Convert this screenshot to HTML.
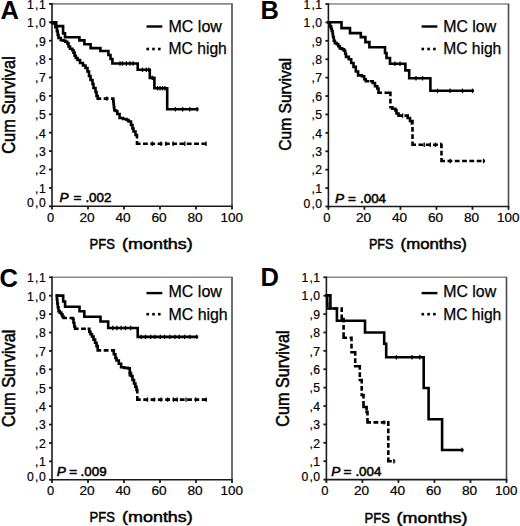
<!DOCTYPE html>
<html><head><meta charset="utf-8"><style>
html,body{margin:0;padding:0;background:#fff;}
body{width:520px;height:526px;overflow:hidden;}
svg{display:block;}
text{fill:#000;}
</style></head><body>
<svg width="520" height="526" viewBox="0 0 520 526">
<rect width="520" height="526" fill="#fff"/>
<line x1="52.0" y1="3.9" x2="232.8" y2="3.9" stroke="#8a8a8a" stroke-width="1.6"/>
<line x1="232.0" y1="3.9" x2="232.0" y2="206.3" stroke="#4a4a4a" stroke-width="1.6"/>
<line x1="52.0" y1="3.0999999999999996" x2="52.0" y2="207.10000000000002" stroke="#1a1a1a" stroke-width="1.6"/>
<line x1="51.2" y1="206.3" x2="232.8" y2="206.3" stroke="#1a1a1a" stroke-width="1.6"/>
<line x1="49.0" y1="206.30" x2="52.0" y2="206.30" stroke="#1a1a1a" stroke-width="1.8"/>
<line x1="49.0" y1="187.90" x2="52.0" y2="187.90" stroke="#1a1a1a" stroke-width="1.8"/>
<line x1="49.0" y1="169.50" x2="52.0" y2="169.50" stroke="#1a1a1a" stroke-width="1.8"/>
<line x1="49.0" y1="151.10" x2="52.0" y2="151.10" stroke="#1a1a1a" stroke-width="1.8"/>
<line x1="49.0" y1="132.70" x2="52.0" y2="132.70" stroke="#1a1a1a" stroke-width="1.8"/>
<line x1="49.0" y1="114.30" x2="52.0" y2="114.30" stroke="#1a1a1a" stroke-width="1.8"/>
<line x1="49.0" y1="95.90" x2="52.0" y2="95.90" stroke="#1a1a1a" stroke-width="1.8"/>
<line x1="49.0" y1="77.50" x2="52.0" y2="77.50" stroke="#1a1a1a" stroke-width="1.8"/>
<line x1="49.0" y1="59.10" x2="52.0" y2="59.10" stroke="#1a1a1a" stroke-width="1.8"/>
<line x1="49.0" y1="40.70" x2="52.0" y2="40.70" stroke="#1a1a1a" stroke-width="1.8"/>
<line x1="49.0" y1="22.30" x2="52.0" y2="22.30" stroke="#1a1a1a" stroke-width="1.8"/>
<line x1="49.0" y1="3.90" x2="52.0" y2="3.90" stroke="#1a1a1a" stroke-width="1.8"/>
<line x1="52.00" y1="206.3" x2="52.00" y2="209.60000000000002" stroke="#1a1a1a" stroke-width="1.8"/>
<line x1="88.00" y1="206.3" x2="88.00" y2="209.60000000000002" stroke="#1a1a1a" stroke-width="1.8"/>
<line x1="124.00" y1="206.3" x2="124.00" y2="209.60000000000002" stroke="#1a1a1a" stroke-width="1.8"/>
<line x1="160.00" y1="206.3" x2="160.00" y2="209.60000000000002" stroke="#1a1a1a" stroke-width="1.8"/>
<line x1="196.00" y1="206.3" x2="196.00" y2="209.60000000000002" stroke="#1a1a1a" stroke-width="1.8"/>
<line x1="232.00" y1="206.3" x2="232.00" y2="209.60000000000002" stroke="#1a1a1a" stroke-width="1.8"/>
<text x="45.70" y="207.30" text-anchor="end" font-size="12.2" font-family='"Liberation Sans", sans-serif' stroke="#000" stroke-width="0.2">0</text>
<text x="35.00" y="207.30" font-size="12.2" font-family='"Liberation Sans", sans-serif' stroke="#000" stroke-width="0.2">,</text>
<text x="33.80" y="207.30" text-anchor="end" font-size="12.2" font-family='"Liberation Sans", sans-serif' stroke="#000" stroke-width="0.2">0</text>
<text x="45.70" y="192.70" text-anchor="end" font-size="12.2" font-family='"Liberation Sans", sans-serif' stroke="#000" stroke-width="0.2">1</text>
<text x="35.00" y="192.70" font-size="12.2" font-family='"Liberation Sans", sans-serif' stroke="#000" stroke-width="0.2">,</text>
<text x="45.70" y="174.30" text-anchor="end" font-size="12.2" font-family='"Liberation Sans", sans-serif' stroke="#000" stroke-width="0.2">2</text>
<text x="35.00" y="174.30" font-size="12.2" font-family='"Liberation Sans", sans-serif' stroke="#000" stroke-width="0.2">,</text>
<text x="45.70" y="155.90" text-anchor="end" font-size="12.2" font-family='"Liberation Sans", sans-serif' stroke="#000" stroke-width="0.2">3</text>
<text x="35.00" y="155.90" font-size="12.2" font-family='"Liberation Sans", sans-serif' stroke="#000" stroke-width="0.2">,</text>
<text x="45.70" y="137.50" text-anchor="end" font-size="12.2" font-family='"Liberation Sans", sans-serif' stroke="#000" stroke-width="0.2">4</text>
<text x="35.00" y="137.50" font-size="12.2" font-family='"Liberation Sans", sans-serif' stroke="#000" stroke-width="0.2">,</text>
<text x="45.70" y="119.10" text-anchor="end" font-size="12.2" font-family='"Liberation Sans", sans-serif' stroke="#000" stroke-width="0.2">5</text>
<text x="35.00" y="119.10" font-size="12.2" font-family='"Liberation Sans", sans-serif' stroke="#000" stroke-width="0.2">,</text>
<text x="45.70" y="100.70" text-anchor="end" font-size="12.2" font-family='"Liberation Sans", sans-serif' stroke="#000" stroke-width="0.2">6</text>
<text x="35.00" y="100.70" font-size="12.2" font-family='"Liberation Sans", sans-serif' stroke="#000" stroke-width="0.2">,</text>
<text x="45.70" y="82.30" text-anchor="end" font-size="12.2" font-family='"Liberation Sans", sans-serif' stroke="#000" stroke-width="0.2">7</text>
<text x="35.00" y="82.30" font-size="12.2" font-family='"Liberation Sans", sans-serif' stroke="#000" stroke-width="0.2">,</text>
<text x="45.70" y="63.90" text-anchor="end" font-size="12.2" font-family='"Liberation Sans", sans-serif' stroke="#000" stroke-width="0.2">8</text>
<text x="35.00" y="63.90" font-size="12.2" font-family='"Liberation Sans", sans-serif' stroke="#000" stroke-width="0.2">,</text>
<text x="45.70" y="45.50" text-anchor="end" font-size="12.2" font-family='"Liberation Sans", sans-serif' stroke="#000" stroke-width="0.2">9</text>
<text x="35.00" y="45.50" font-size="12.2" font-family='"Liberation Sans", sans-serif' stroke="#000" stroke-width="0.2">,</text>
<text x="45.70" y="27.10" text-anchor="end" font-size="12.2" font-family='"Liberation Sans", sans-serif' stroke="#000" stroke-width="0.2">0</text>
<text x="35.00" y="27.10" font-size="12.2" font-family='"Liberation Sans", sans-serif' stroke="#000" stroke-width="0.2">,</text>
<text x="33.80" y="27.10" text-anchor="end" font-size="12.2" font-family='"Liberation Sans", sans-serif' stroke="#000" stroke-width="0.2">1</text>
<text x="45.70" y="8.70" text-anchor="end" font-size="12.2" font-family='"Liberation Sans", sans-serif' stroke="#000" stroke-width="0.2">1</text>
<text x="35.00" y="8.70" font-size="12.2" font-family='"Liberation Sans", sans-serif' stroke="#000" stroke-width="0.2">,</text>
<text x="33.80" y="8.70" text-anchor="end" font-size="12.2" font-family='"Liberation Sans", sans-serif' stroke="#000" stroke-width="0.2">1</text>
<text x="50.50" y="221.90" text-anchor="middle" font-size="12.2" font-family='"Liberation Sans", sans-serif' textLength="7.2" lengthAdjust="spacingAndGlyphs" stroke="#000" stroke-width="0.2">0</text>
<text x="87.10" y="221.90" text-anchor="middle" font-size="12.2" font-family='"Liberation Sans", sans-serif' textLength="15.2" lengthAdjust="spacingAndGlyphs" stroke="#000" stroke-width="0.2">20</text>
<text x="123.10" y="221.90" text-anchor="middle" font-size="12.2" font-family='"Liberation Sans", sans-serif' textLength="15.2" lengthAdjust="spacingAndGlyphs" stroke="#000" stroke-width="0.2">40</text>
<text x="159.10" y="221.90" text-anchor="middle" font-size="12.2" font-family='"Liberation Sans", sans-serif' textLength="15.2" lengthAdjust="spacingAndGlyphs" stroke="#000" stroke-width="0.2">60</text>
<text x="195.10" y="221.90" text-anchor="middle" font-size="12.2" font-family='"Liberation Sans", sans-serif' textLength="15.2" lengthAdjust="spacingAndGlyphs" stroke="#000" stroke-width="0.2">80</text>
<text x="231.80" y="221.90" text-anchor="middle" font-size="12.2" font-family='"Liberation Sans", sans-serif' textLength="22.4" lengthAdjust="spacingAndGlyphs" stroke="#000" stroke-width="0.2">100</text>
<line x1="328.4" y1="4.0" x2="509.3" y2="4.0" stroke="#8a8a8a" stroke-width="1.6"/>
<line x1="508.5" y1="4.0" x2="508.5" y2="206.5" stroke="#4a4a4a" stroke-width="1.6"/>
<line x1="328.4" y1="3.2" x2="328.4" y2="207.3" stroke="#1a1a1a" stroke-width="1.6"/>
<line x1="327.59999999999997" y1="206.5" x2="509.3" y2="206.5" stroke="#1a1a1a" stroke-width="1.6"/>
<line x1="325.4" y1="206.50" x2="328.4" y2="206.50" stroke="#1a1a1a" stroke-width="1.8"/>
<line x1="325.4" y1="188.09" x2="328.4" y2="188.09" stroke="#1a1a1a" stroke-width="1.8"/>
<line x1="325.4" y1="169.68" x2="328.4" y2="169.68" stroke="#1a1a1a" stroke-width="1.8"/>
<line x1="325.4" y1="151.27" x2="328.4" y2="151.27" stroke="#1a1a1a" stroke-width="1.8"/>
<line x1="325.4" y1="132.86" x2="328.4" y2="132.86" stroke="#1a1a1a" stroke-width="1.8"/>
<line x1="325.4" y1="114.45" x2="328.4" y2="114.45" stroke="#1a1a1a" stroke-width="1.8"/>
<line x1="325.4" y1="96.05" x2="328.4" y2="96.05" stroke="#1a1a1a" stroke-width="1.8"/>
<line x1="325.4" y1="77.64" x2="328.4" y2="77.64" stroke="#1a1a1a" stroke-width="1.8"/>
<line x1="325.4" y1="59.23" x2="328.4" y2="59.23" stroke="#1a1a1a" stroke-width="1.8"/>
<line x1="325.4" y1="40.82" x2="328.4" y2="40.82" stroke="#1a1a1a" stroke-width="1.8"/>
<line x1="325.4" y1="22.41" x2="328.4" y2="22.41" stroke="#1a1a1a" stroke-width="1.8"/>
<line x1="325.4" y1="4.00" x2="328.4" y2="4.00" stroke="#1a1a1a" stroke-width="1.8"/>
<line x1="328.40" y1="206.5" x2="328.40" y2="209.8" stroke="#1a1a1a" stroke-width="1.8"/>
<line x1="364.42" y1="206.5" x2="364.42" y2="209.8" stroke="#1a1a1a" stroke-width="1.8"/>
<line x1="400.44" y1="206.5" x2="400.44" y2="209.8" stroke="#1a1a1a" stroke-width="1.8"/>
<line x1="436.46" y1="206.5" x2="436.46" y2="209.8" stroke="#1a1a1a" stroke-width="1.8"/>
<line x1="472.48" y1="206.5" x2="472.48" y2="209.8" stroke="#1a1a1a" stroke-width="1.8"/>
<line x1="508.50" y1="206.5" x2="508.50" y2="209.8" stroke="#1a1a1a" stroke-width="1.8"/>
<text x="322.10" y="207.50" text-anchor="end" font-size="12.2" font-family='"Liberation Sans", sans-serif' stroke="#000" stroke-width="0.2">0</text>
<text x="311.40" y="207.50" font-size="12.2" font-family='"Liberation Sans", sans-serif' stroke="#000" stroke-width="0.2">,</text>
<text x="310.20" y="207.50" text-anchor="end" font-size="12.2" font-family='"Liberation Sans", sans-serif' stroke="#000" stroke-width="0.2">0</text>
<text x="322.10" y="192.89" text-anchor="end" font-size="12.2" font-family='"Liberation Sans", sans-serif' stroke="#000" stroke-width="0.2">1</text>
<text x="311.40" y="192.89" font-size="12.2" font-family='"Liberation Sans", sans-serif' stroke="#000" stroke-width="0.2">,</text>
<text x="322.10" y="174.48" text-anchor="end" font-size="12.2" font-family='"Liberation Sans", sans-serif' stroke="#000" stroke-width="0.2">2</text>
<text x="311.40" y="174.48" font-size="12.2" font-family='"Liberation Sans", sans-serif' stroke="#000" stroke-width="0.2">,</text>
<text x="322.10" y="156.07" text-anchor="end" font-size="12.2" font-family='"Liberation Sans", sans-serif' stroke="#000" stroke-width="0.2">3</text>
<text x="311.40" y="156.07" font-size="12.2" font-family='"Liberation Sans", sans-serif' stroke="#000" stroke-width="0.2">,</text>
<text x="322.10" y="137.66" text-anchor="end" font-size="12.2" font-family='"Liberation Sans", sans-serif' stroke="#000" stroke-width="0.2">4</text>
<text x="311.40" y="137.66" font-size="12.2" font-family='"Liberation Sans", sans-serif' stroke="#000" stroke-width="0.2">,</text>
<text x="322.10" y="119.25" text-anchor="end" font-size="12.2" font-family='"Liberation Sans", sans-serif' stroke="#000" stroke-width="0.2">5</text>
<text x="311.40" y="119.25" font-size="12.2" font-family='"Liberation Sans", sans-serif' stroke="#000" stroke-width="0.2">,</text>
<text x="322.10" y="100.85" text-anchor="end" font-size="12.2" font-family='"Liberation Sans", sans-serif' stroke="#000" stroke-width="0.2">6</text>
<text x="311.40" y="100.85" font-size="12.2" font-family='"Liberation Sans", sans-serif' stroke="#000" stroke-width="0.2">,</text>
<text x="322.10" y="82.44" text-anchor="end" font-size="12.2" font-family='"Liberation Sans", sans-serif' stroke="#000" stroke-width="0.2">7</text>
<text x="311.40" y="82.44" font-size="12.2" font-family='"Liberation Sans", sans-serif' stroke="#000" stroke-width="0.2">,</text>
<text x="322.10" y="64.03" text-anchor="end" font-size="12.2" font-family='"Liberation Sans", sans-serif' stroke="#000" stroke-width="0.2">8</text>
<text x="311.40" y="64.03" font-size="12.2" font-family='"Liberation Sans", sans-serif' stroke="#000" stroke-width="0.2">,</text>
<text x="322.10" y="45.62" text-anchor="end" font-size="12.2" font-family='"Liberation Sans", sans-serif' stroke="#000" stroke-width="0.2">9</text>
<text x="311.40" y="45.62" font-size="12.2" font-family='"Liberation Sans", sans-serif' stroke="#000" stroke-width="0.2">,</text>
<text x="322.10" y="27.21" text-anchor="end" font-size="12.2" font-family='"Liberation Sans", sans-serif' stroke="#000" stroke-width="0.2">0</text>
<text x="311.40" y="27.21" font-size="12.2" font-family='"Liberation Sans", sans-serif' stroke="#000" stroke-width="0.2">,</text>
<text x="310.20" y="27.21" text-anchor="end" font-size="12.2" font-family='"Liberation Sans", sans-serif' stroke="#000" stroke-width="0.2">1</text>
<text x="322.10" y="8.80" text-anchor="end" font-size="12.2" font-family='"Liberation Sans", sans-serif' stroke="#000" stroke-width="0.2">1</text>
<text x="311.40" y="8.80" font-size="12.2" font-family='"Liberation Sans", sans-serif' stroke="#000" stroke-width="0.2">,</text>
<text x="310.20" y="8.80" text-anchor="end" font-size="12.2" font-family='"Liberation Sans", sans-serif' stroke="#000" stroke-width="0.2">1</text>
<text x="326.90" y="222.10" text-anchor="middle" font-size="12.2" font-family='"Liberation Sans", sans-serif' textLength="7.2" lengthAdjust="spacingAndGlyphs" stroke="#000" stroke-width="0.2">0</text>
<text x="363.52" y="222.10" text-anchor="middle" font-size="12.2" font-family='"Liberation Sans", sans-serif' textLength="15.2" lengthAdjust="spacingAndGlyphs" stroke="#000" stroke-width="0.2">20</text>
<text x="399.54" y="222.10" text-anchor="middle" font-size="12.2" font-family='"Liberation Sans", sans-serif' textLength="15.2" lengthAdjust="spacingAndGlyphs" stroke="#000" stroke-width="0.2">40</text>
<text x="435.56" y="222.10" text-anchor="middle" font-size="12.2" font-family='"Liberation Sans", sans-serif' textLength="15.2" lengthAdjust="spacingAndGlyphs" stroke="#000" stroke-width="0.2">60</text>
<text x="471.58" y="222.10" text-anchor="middle" font-size="12.2" font-family='"Liberation Sans", sans-serif' textLength="15.2" lengthAdjust="spacingAndGlyphs" stroke="#000" stroke-width="0.2">80</text>
<text x="508.30" y="222.10" text-anchor="middle" font-size="12.2" font-family='"Liberation Sans", sans-serif' textLength="22.4" lengthAdjust="spacingAndGlyphs" stroke="#000" stroke-width="0.2">100</text>
<line x1="52.0" y1="277.3" x2="232.8" y2="277.3" stroke="#8a8a8a" stroke-width="1.6"/>
<line x1="232.0" y1="277.3" x2="232.0" y2="479.8" stroke="#4a4a4a" stroke-width="1.6"/>
<line x1="52.0" y1="276.5" x2="52.0" y2="480.6" stroke="#1a1a1a" stroke-width="1.6"/>
<line x1="51.2" y1="479.8" x2="232.8" y2="479.8" stroke="#1a1a1a" stroke-width="1.6"/>
<line x1="49.0" y1="479.80" x2="52.0" y2="479.80" stroke="#1a1a1a" stroke-width="1.8"/>
<line x1="49.0" y1="461.39" x2="52.0" y2="461.39" stroke="#1a1a1a" stroke-width="1.8"/>
<line x1="49.0" y1="442.98" x2="52.0" y2="442.98" stroke="#1a1a1a" stroke-width="1.8"/>
<line x1="49.0" y1="424.57" x2="52.0" y2="424.57" stroke="#1a1a1a" stroke-width="1.8"/>
<line x1="49.0" y1="406.16" x2="52.0" y2="406.16" stroke="#1a1a1a" stroke-width="1.8"/>
<line x1="49.0" y1="387.75" x2="52.0" y2="387.75" stroke="#1a1a1a" stroke-width="1.8"/>
<line x1="49.0" y1="369.35" x2="52.0" y2="369.35" stroke="#1a1a1a" stroke-width="1.8"/>
<line x1="49.0" y1="350.94" x2="52.0" y2="350.94" stroke="#1a1a1a" stroke-width="1.8"/>
<line x1="49.0" y1="332.53" x2="52.0" y2="332.53" stroke="#1a1a1a" stroke-width="1.8"/>
<line x1="49.0" y1="314.12" x2="52.0" y2="314.12" stroke="#1a1a1a" stroke-width="1.8"/>
<line x1="49.0" y1="295.71" x2="52.0" y2="295.71" stroke="#1a1a1a" stroke-width="1.8"/>
<line x1="49.0" y1="277.30" x2="52.0" y2="277.30" stroke="#1a1a1a" stroke-width="1.8"/>
<line x1="52.00" y1="479.8" x2="52.00" y2="483.1" stroke="#1a1a1a" stroke-width="1.8"/>
<line x1="88.00" y1="479.8" x2="88.00" y2="483.1" stroke="#1a1a1a" stroke-width="1.8"/>
<line x1="124.00" y1="479.8" x2="124.00" y2="483.1" stroke="#1a1a1a" stroke-width="1.8"/>
<line x1="160.00" y1="479.8" x2="160.00" y2="483.1" stroke="#1a1a1a" stroke-width="1.8"/>
<line x1="196.00" y1="479.8" x2="196.00" y2="483.1" stroke="#1a1a1a" stroke-width="1.8"/>
<line x1="232.00" y1="479.8" x2="232.00" y2="483.1" stroke="#1a1a1a" stroke-width="1.8"/>
<text x="45.70" y="480.80" text-anchor="end" font-size="12.2" font-family='"Liberation Sans", sans-serif' stroke="#000" stroke-width="0.2">0</text>
<text x="35.00" y="480.80" font-size="12.2" font-family='"Liberation Sans", sans-serif' stroke="#000" stroke-width="0.2">,</text>
<text x="33.80" y="480.80" text-anchor="end" font-size="12.2" font-family='"Liberation Sans", sans-serif' stroke="#000" stroke-width="0.2">0</text>
<text x="45.70" y="466.19" text-anchor="end" font-size="12.2" font-family='"Liberation Sans", sans-serif' stroke="#000" stroke-width="0.2">1</text>
<text x="35.00" y="466.19" font-size="12.2" font-family='"Liberation Sans", sans-serif' stroke="#000" stroke-width="0.2">,</text>
<text x="45.70" y="447.78" text-anchor="end" font-size="12.2" font-family='"Liberation Sans", sans-serif' stroke="#000" stroke-width="0.2">2</text>
<text x="35.00" y="447.78" font-size="12.2" font-family='"Liberation Sans", sans-serif' stroke="#000" stroke-width="0.2">,</text>
<text x="45.70" y="429.37" text-anchor="end" font-size="12.2" font-family='"Liberation Sans", sans-serif' stroke="#000" stroke-width="0.2">3</text>
<text x="35.00" y="429.37" font-size="12.2" font-family='"Liberation Sans", sans-serif' stroke="#000" stroke-width="0.2">,</text>
<text x="45.70" y="410.96" text-anchor="end" font-size="12.2" font-family='"Liberation Sans", sans-serif' stroke="#000" stroke-width="0.2">4</text>
<text x="35.00" y="410.96" font-size="12.2" font-family='"Liberation Sans", sans-serif' stroke="#000" stroke-width="0.2">,</text>
<text x="45.70" y="392.55" text-anchor="end" font-size="12.2" font-family='"Liberation Sans", sans-serif' stroke="#000" stroke-width="0.2">5</text>
<text x="35.00" y="392.55" font-size="12.2" font-family='"Liberation Sans", sans-serif' stroke="#000" stroke-width="0.2">,</text>
<text x="45.70" y="374.15" text-anchor="end" font-size="12.2" font-family='"Liberation Sans", sans-serif' stroke="#000" stroke-width="0.2">6</text>
<text x="35.00" y="374.15" font-size="12.2" font-family='"Liberation Sans", sans-serif' stroke="#000" stroke-width="0.2">,</text>
<text x="45.70" y="355.74" text-anchor="end" font-size="12.2" font-family='"Liberation Sans", sans-serif' stroke="#000" stroke-width="0.2">7</text>
<text x="35.00" y="355.74" font-size="12.2" font-family='"Liberation Sans", sans-serif' stroke="#000" stroke-width="0.2">,</text>
<text x="45.70" y="337.33" text-anchor="end" font-size="12.2" font-family='"Liberation Sans", sans-serif' stroke="#000" stroke-width="0.2">8</text>
<text x="35.00" y="337.33" font-size="12.2" font-family='"Liberation Sans", sans-serif' stroke="#000" stroke-width="0.2">,</text>
<text x="45.70" y="318.92" text-anchor="end" font-size="12.2" font-family='"Liberation Sans", sans-serif' stroke="#000" stroke-width="0.2">9</text>
<text x="35.00" y="318.92" font-size="12.2" font-family='"Liberation Sans", sans-serif' stroke="#000" stroke-width="0.2">,</text>
<text x="45.70" y="300.51" text-anchor="end" font-size="12.2" font-family='"Liberation Sans", sans-serif' stroke="#000" stroke-width="0.2">0</text>
<text x="35.00" y="300.51" font-size="12.2" font-family='"Liberation Sans", sans-serif' stroke="#000" stroke-width="0.2">,</text>
<text x="33.80" y="300.51" text-anchor="end" font-size="12.2" font-family='"Liberation Sans", sans-serif' stroke="#000" stroke-width="0.2">1</text>
<text x="45.70" y="282.10" text-anchor="end" font-size="12.2" font-family='"Liberation Sans", sans-serif' stroke="#000" stroke-width="0.2">1</text>
<text x="35.00" y="282.10" font-size="12.2" font-family='"Liberation Sans", sans-serif' stroke="#000" stroke-width="0.2">,</text>
<text x="33.80" y="282.10" text-anchor="end" font-size="12.2" font-family='"Liberation Sans", sans-serif' stroke="#000" stroke-width="0.2">1</text>
<text x="50.50" y="495.40" text-anchor="middle" font-size="12.2" font-family='"Liberation Sans", sans-serif' textLength="7.2" lengthAdjust="spacingAndGlyphs" stroke="#000" stroke-width="0.2">0</text>
<text x="87.10" y="495.40" text-anchor="middle" font-size="12.2" font-family='"Liberation Sans", sans-serif' textLength="15.2" lengthAdjust="spacingAndGlyphs" stroke="#000" stroke-width="0.2">20</text>
<text x="123.10" y="495.40" text-anchor="middle" font-size="12.2" font-family='"Liberation Sans", sans-serif' textLength="15.2" lengthAdjust="spacingAndGlyphs" stroke="#000" stroke-width="0.2">40</text>
<text x="159.10" y="495.40" text-anchor="middle" font-size="12.2" font-family='"Liberation Sans", sans-serif' textLength="15.2" lengthAdjust="spacingAndGlyphs" stroke="#000" stroke-width="0.2">60</text>
<text x="195.10" y="495.40" text-anchor="middle" font-size="12.2" font-family='"Liberation Sans", sans-serif' textLength="15.2" lengthAdjust="spacingAndGlyphs" stroke="#000" stroke-width="0.2">80</text>
<text x="231.80" y="495.40" text-anchor="middle" font-size="12.2" font-family='"Liberation Sans", sans-serif' textLength="22.4" lengthAdjust="spacingAndGlyphs" stroke="#000" stroke-width="0.2">100</text>
<line x1="326.4" y1="277.3" x2="507.3" y2="277.3" stroke="#8a8a8a" stroke-width="1.6"/>
<line x1="506.5" y1="277.3" x2="506.5" y2="479.6" stroke="#4a4a4a" stroke-width="1.6"/>
<line x1="326.4" y1="276.5" x2="326.4" y2="480.40000000000003" stroke="#1a1a1a" stroke-width="1.6"/>
<line x1="325.59999999999997" y1="479.6" x2="507.3" y2="479.6" stroke="#1a1a1a" stroke-width="1.6"/>
<line x1="323.4" y1="479.60" x2="326.4" y2="479.60" stroke="#1a1a1a" stroke-width="1.8"/>
<line x1="323.4" y1="461.21" x2="326.4" y2="461.21" stroke="#1a1a1a" stroke-width="1.8"/>
<line x1="323.4" y1="442.82" x2="326.4" y2="442.82" stroke="#1a1a1a" stroke-width="1.8"/>
<line x1="323.4" y1="424.43" x2="326.4" y2="424.43" stroke="#1a1a1a" stroke-width="1.8"/>
<line x1="323.4" y1="406.04" x2="326.4" y2="406.04" stroke="#1a1a1a" stroke-width="1.8"/>
<line x1="323.4" y1="387.65" x2="326.4" y2="387.65" stroke="#1a1a1a" stroke-width="1.8"/>
<line x1="323.4" y1="369.25" x2="326.4" y2="369.25" stroke="#1a1a1a" stroke-width="1.8"/>
<line x1="323.4" y1="350.86" x2="326.4" y2="350.86" stroke="#1a1a1a" stroke-width="1.8"/>
<line x1="323.4" y1="332.47" x2="326.4" y2="332.47" stroke="#1a1a1a" stroke-width="1.8"/>
<line x1="323.4" y1="314.08" x2="326.4" y2="314.08" stroke="#1a1a1a" stroke-width="1.8"/>
<line x1="323.4" y1="295.69" x2="326.4" y2="295.69" stroke="#1a1a1a" stroke-width="1.8"/>
<line x1="323.4" y1="277.30" x2="326.4" y2="277.30" stroke="#1a1a1a" stroke-width="1.8"/>
<line x1="326.40" y1="479.6" x2="326.40" y2="482.90000000000003" stroke="#1a1a1a" stroke-width="1.8"/>
<line x1="362.42" y1="479.6" x2="362.42" y2="482.90000000000003" stroke="#1a1a1a" stroke-width="1.8"/>
<line x1="398.44" y1="479.6" x2="398.44" y2="482.90000000000003" stroke="#1a1a1a" stroke-width="1.8"/>
<line x1="434.46" y1="479.6" x2="434.46" y2="482.90000000000003" stroke="#1a1a1a" stroke-width="1.8"/>
<line x1="470.48" y1="479.6" x2="470.48" y2="482.90000000000003" stroke="#1a1a1a" stroke-width="1.8"/>
<line x1="506.50" y1="479.6" x2="506.50" y2="482.90000000000003" stroke="#1a1a1a" stroke-width="1.8"/>
<text x="320.10" y="480.60" text-anchor="end" font-size="12.2" font-family='"Liberation Sans", sans-serif' stroke="#000" stroke-width="0.2">0</text>
<text x="309.40" y="480.60" font-size="12.2" font-family='"Liberation Sans", sans-serif' stroke="#000" stroke-width="0.2">,</text>
<text x="308.20" y="480.60" text-anchor="end" font-size="12.2" font-family='"Liberation Sans", sans-serif' stroke="#000" stroke-width="0.2">0</text>
<text x="320.10" y="466.01" text-anchor="end" font-size="12.2" font-family='"Liberation Sans", sans-serif' stroke="#000" stroke-width="0.2">1</text>
<text x="309.40" y="466.01" font-size="12.2" font-family='"Liberation Sans", sans-serif' stroke="#000" stroke-width="0.2">,</text>
<text x="320.10" y="447.62" text-anchor="end" font-size="12.2" font-family='"Liberation Sans", sans-serif' stroke="#000" stroke-width="0.2">2</text>
<text x="309.40" y="447.62" font-size="12.2" font-family='"Liberation Sans", sans-serif' stroke="#000" stroke-width="0.2">,</text>
<text x="320.10" y="429.23" text-anchor="end" font-size="12.2" font-family='"Liberation Sans", sans-serif' stroke="#000" stroke-width="0.2">3</text>
<text x="309.40" y="429.23" font-size="12.2" font-family='"Liberation Sans", sans-serif' stroke="#000" stroke-width="0.2">,</text>
<text x="320.10" y="410.84" text-anchor="end" font-size="12.2" font-family='"Liberation Sans", sans-serif' stroke="#000" stroke-width="0.2">4</text>
<text x="309.40" y="410.84" font-size="12.2" font-family='"Liberation Sans", sans-serif' stroke="#000" stroke-width="0.2">,</text>
<text x="320.10" y="392.45" text-anchor="end" font-size="12.2" font-family='"Liberation Sans", sans-serif' stroke="#000" stroke-width="0.2">5</text>
<text x="309.40" y="392.45" font-size="12.2" font-family='"Liberation Sans", sans-serif' stroke="#000" stroke-width="0.2">,</text>
<text x="320.10" y="374.05" text-anchor="end" font-size="12.2" font-family='"Liberation Sans", sans-serif' stroke="#000" stroke-width="0.2">6</text>
<text x="309.40" y="374.05" font-size="12.2" font-family='"Liberation Sans", sans-serif' stroke="#000" stroke-width="0.2">,</text>
<text x="320.10" y="355.66" text-anchor="end" font-size="12.2" font-family='"Liberation Sans", sans-serif' stroke="#000" stroke-width="0.2">7</text>
<text x="309.40" y="355.66" font-size="12.2" font-family='"Liberation Sans", sans-serif' stroke="#000" stroke-width="0.2">,</text>
<text x="320.10" y="337.27" text-anchor="end" font-size="12.2" font-family='"Liberation Sans", sans-serif' stroke="#000" stroke-width="0.2">8</text>
<text x="309.40" y="337.27" font-size="12.2" font-family='"Liberation Sans", sans-serif' stroke="#000" stroke-width="0.2">,</text>
<text x="320.10" y="318.88" text-anchor="end" font-size="12.2" font-family='"Liberation Sans", sans-serif' stroke="#000" stroke-width="0.2">9</text>
<text x="309.40" y="318.88" font-size="12.2" font-family='"Liberation Sans", sans-serif' stroke="#000" stroke-width="0.2">,</text>
<text x="320.10" y="300.49" text-anchor="end" font-size="12.2" font-family='"Liberation Sans", sans-serif' stroke="#000" stroke-width="0.2">0</text>
<text x="309.40" y="300.49" font-size="12.2" font-family='"Liberation Sans", sans-serif' stroke="#000" stroke-width="0.2">,</text>
<text x="308.20" y="300.49" text-anchor="end" font-size="12.2" font-family='"Liberation Sans", sans-serif' stroke="#000" stroke-width="0.2">1</text>
<text x="320.10" y="282.10" text-anchor="end" font-size="12.2" font-family='"Liberation Sans", sans-serif' stroke="#000" stroke-width="0.2">1</text>
<text x="309.40" y="282.10" font-size="12.2" font-family='"Liberation Sans", sans-serif' stroke="#000" stroke-width="0.2">,</text>
<text x="308.20" y="282.10" text-anchor="end" font-size="12.2" font-family='"Liberation Sans", sans-serif' stroke="#000" stroke-width="0.2">1</text>
<text x="324.90" y="495.20" text-anchor="middle" font-size="12.2" font-family='"Liberation Sans", sans-serif' textLength="7.2" lengthAdjust="spacingAndGlyphs" stroke="#000" stroke-width="0.2">0</text>
<text x="361.52" y="495.20" text-anchor="middle" font-size="12.2" font-family='"Liberation Sans", sans-serif' textLength="15.2" lengthAdjust="spacingAndGlyphs" stroke="#000" stroke-width="0.2">20</text>
<text x="397.54" y="495.20" text-anchor="middle" font-size="12.2" font-family='"Liberation Sans", sans-serif' textLength="15.2" lengthAdjust="spacingAndGlyphs" stroke="#000" stroke-width="0.2">40</text>
<text x="433.56" y="495.20" text-anchor="middle" font-size="12.2" font-family='"Liberation Sans", sans-serif' textLength="15.2" lengthAdjust="spacingAndGlyphs" stroke="#000" stroke-width="0.2">60</text>
<text x="469.58" y="495.20" text-anchor="middle" font-size="12.2" font-family='"Liberation Sans", sans-serif' textLength="15.2" lengthAdjust="spacingAndGlyphs" stroke="#000" stroke-width="0.2">80</text>
<text x="506.30" y="495.20" text-anchor="middle" font-size="12.2" font-family='"Liberation Sans", sans-serif' textLength="22.4" lengthAdjust="spacingAndGlyphs" stroke="#000" stroke-width="0.2">100</text>
<path d="M52,22.2 H56.2 V26.1 H63.1 V33.4 H65 V37.2 H79.4 V40.4 H84.4 V44.2 H90.6 V48.1 H100.4 V51 H108.4 V55 H110.5 V59 H112.4 V63.5 H137.7 V69.8 H149.8 V77.9 H154.4 V88.2 H167.2 V109.3 H197.3" fill="none" stroke="#000" stroke-width="2.6" stroke-linejoin="miter" stroke-linecap="square"/>
<path d="M50.70,22.2 H54.40 M53.1,20.90 V24.70 M51.80,23.4 H56.70 M55.4,22.10 V28.50 M54.10,27.2 H58.20 M56.9,25.90 V32.40 M55.60,31.1 H59.00 M57.7,29.80 V36.20 M56.40,34.9 H59.80 M58.5,33.60 V39.30 M57.20,38 H62.10 M60.8,36.70 V41.60 M59.50,40.3 H64.80 M63.5,39.00 V42.00 M62.20,40.7 H66.70 M65.4,39.40 V43.10 M64.10,41.8 H68.60 M67.3,40.50 V44.70 M66.00,43.4 H69.80 M68.5,42.10 V47.80 M67.20,46.5 H71.30 M70,45.20 V50.10 M68.70,48.8 H73.60 M72.3,47.50 V51.60 M71.00,50.3 H74.80 M73.5,49.00 V53.90 M72.20,52.6 H75.90 M74.6,51.30 V57.00 M73.30,55.7 H77.10 M75.8,54.40 V59.30 M74.50,58 H78.80 M77.5,56.70 V61.30 M76.20,60 H81.30 M80,58.70 V64.30 M78.70,63 H84.30 M83,61.70 V66.80 M81.70,65.5 H86.80 M85.5,64.20 V69.30 M84.20,68 H88.80 M87.5,66.70 V72.80 M86.20,71.5 H90.30 M89,70.20 V77.30 M87.70,76 H91.80 M90.5,74.70 V81.30 M89.20,80 H93.80 M92.5,78.70 V85.30 M91.20,84 H94.80 M93.5,82.70 V89.30 M92.20,88 H96.80 M95.5,86.70 V93.30 M94.20,92 H97.80 M96.5,90.70 V97.30 M95.20,96 H99.00 M97.7,94.70 V99.90 M96.40,98.6 H114.60 M113.3,97.30 V102.80 M112.00,101.5 H114.90 M113.6,100.20 V105.80 M112.30,104.5 H115.20 M113.9,103.20 V108.80 M112.60,107.5 H115.60 M114.3,106.20 V111.50 M113.00,110.2 H116.90 M115.6,108.90 V112.30 M114.30,111 H118.60 M117.3,109.70 V115.30 M116.00,114 H120.90 M119.6,112.70 V119.30 M118.30,118 H124.30 M123,116.70 V120.30 M121.70,119 H127.80 M126.5,117.70 V121.30 M125.20,120 H129.80 M128.5,118.70 V122.80 M127.20,121.5 H132.30 M131,120.20 V126.30 M129.70,125 H133.80 M132.5,123.70 V129.80 M131.20,128.5 H134.80 M133.5,127.20 V132.80 M132.20,131.5 H136.80 M135.5,130.20 V136.30 M134.20,135 H138.30 M137,133.70 V145.10 M135.70,143.8 H207.60 " fill="none" stroke="#000" stroke-width="2.6" stroke-dasharray="4.8 2.5"/>
<path d="M328.4,22.2 H341.5 V28.1 H350.0 V33.1 H360.8 V37.1 H365.4 V42.1 H369.4 V47.3 H385 V53 H386.5 V58 H390 V63.8 H405.4 V70.4 H409.2 V78.3 H430.4 V90.8 H472.7" fill="none" stroke="#000" stroke-width="2.6" stroke-linejoin="miter" stroke-linecap="square"/>
<path d="M327.10,22.2 H331.30 M330,20.90 V27.70 M328.70,26.4 H332.40 M331.1,25.10 V30.00 M329.80,28.7 H333.10 M331.8,27.40 V32.30 M330.50,31 H333.90 M332.6,29.70 V35.30 M331.30,34 H334.30 M333,32.70 V38.30 M331.70,37 H335.10 M333.8,35.70 V42.10 M332.50,40.8 H336.20 M334.9,39.50 V44.40 M333.60,43.1 H338.10 M336.8,41.80 V45.60 M335.50,44.3 H339.60 M338.3,43.00 V47.50 M337.00,46.2 H341.10 M339.8,44.90 V49.70 M338.50,48.4 H343.40 M342.1,47.10 V50.50 M340.80,49.2 H345.30 M344,47.90 V52.00 M342.70,50.7 H346.50 M345.2,49.40 V55.10 M343.90,53.8 H347.30 M346,52.50 V58.20 M344.70,56.9 H350.10 M348.8,55.60 V60.50 M347.50,59.2 H352.50 M351.2,57.90 V64.30 M349.90,63 H354.80 M353.5,61.70 V68.20 M352.20,66.9 H357.10 M355.8,65.60 V72.80 M354.50,71.5 H359.40 M358.1,70.20 V76.70 M356.80,75.4 H363.20 M361.9,74.10 V77.50 M360.60,76.2 H365.50 M364.2,74.90 V80.50 M362.90,79.2 H367.10 M365.8,77.90 V82.50 M364.50,81.2 H372.50 M369.90,81.2 H374.00 M372.7,79.90 V84.30 M371.40,83 H376.30 M375,81.70 V87.50 M373.70,86.2 H378.60 M377.3,84.90 V89.80 M376.00,88.5 H379.80 M378.5,87.20 V94.00 M377.20,92.7 H391.70 M390.4,91.40 V108.60 M389.10,107.3 H393.60 M392.3,106.00 V110.10 M391.00,108.8 H396.70 M395.4,107.50 V111.70 M394.10,110.4 H397.80 M396.5,109.10 V114.80 M395.20,113.5 H399.80 M398.5,112.20 V116.90 M397.20,115.6 H408.30 M405.70,115.6 H409.00 M407.7,114.30 V119.30 M406.40,118 H411.30 M410,116.70 V122.30 M408.70,121 H413.80 M412.5,119.70 V146.10 M411.20,144.8 H442.80 M441.5,143.50 V162.30 M440.20,161.0 H485.00 " fill="none" stroke="#000" stroke-width="2.6" stroke-dasharray="4.8 2.5"/>
<path d="M56.9,295.6 H63.2 V301.5 H65.1 V306.8 H79.5 V311.3 H84.3 V316.8 H100.5 V321.5 H108.2 V328.0 H137.7 V336.9 H196.9" fill="none" stroke="#000" stroke-width="2.6" stroke-linejoin="miter" stroke-linecap="square"/>
<path d="M56.9,294.30 V300.80 M55.60,299.5 H58.60 M57.3,298.20 V304.70 M56.00,303.4 H59.10 M57.8,302.10 V308.50 M56.50,307.2 H59.80 M58.5,305.90 V312.40 M57.20,311.1 H61.00 M59.7,309.80 V313.90 M58.40,312.6 H62.50 M61.2,311.30 V315.50 M59.90,314.2 H63.70 M62.4,312.90 V317.80 M61.10,316.5 H64.80 M63.5,315.20 V319.30 M62.20,318 H73.30 M70.70,318 H74.10 M72.8,316.70 V320.30 M71.50,319 H74.80 M73.5,317.70 V324.00 M72.20,322.7 H75.60 M74.3,321.40 V327.80 M73.00,326.5 H76.40 M75.1,325.20 V330.10 M73.80,328.8 H90.20 M87.60,328.8 H90.60 M89.3,327.50 V333.20 M88.00,331.9 H91.80 M90.5,330.60 V335.50 M89.20,334.2 H93.30 M92,332.90 V337.80 M90.70,336.5 H94.80 M93.5,335.20 V340.90 M92.20,339.6 H96.40 M95.1,338.30 V344.00 M93.80,342.7 H97.80 M96.5,341.40 V347.40 M95.20,346.1 H99.00 M97.7,344.80 V351.70 M96.40,350.4 H114.00 M111.40,350.4 H115.10 M113.8,349.10 V355.50 M112.50,354.2 H116.70 M115.4,352.90 V359.30 M114.10,358 H117.80 M116.5,356.70 V361.80 M115.20,360.5 H120.10 M118.8,359.20 V365.10 M117.50,363.8 H122.40 M121.1,362.50 V368.60 M119.80,367.3 H125.30 M124,366.00 V369.20 M122.70,367.9 H129.30 M128,366.60 V369.70 M126.70,368.4 H131.10 M129.8,367.10 V374.30 M128.50,373 H132.30 M131,371.70 V377.30 M129.70,376 H133.80 M132.5,374.70 V381.30 M131.20,380 H135.30 M134,378.70 V384.80 M132.70,383.5 H136.70 M135.4,382.20 V388.00 M134.10,386.7 H137.80 M136.5,385.40 V391.30 M135.20,390 H138.60 M137.3,388.70 V400.90 M136.00,399.6 H207.80 " fill="none" stroke="#000" stroke-width="2.6" stroke-dasharray="4.8 2.5"/>
<path d="M326.6,295.4 H330.4 V308.5 H336.9 V320.8 H365 V332.5 H384.2 V343.8 H386.2 V357.3 H423.7 V388 H428.6 V419.2 H442.1 V450 H462.3" fill="none" stroke="#000" stroke-width="2.6" stroke-linejoin="miter" stroke-linecap="square"/>
<path d="M325.30,295.4 H328.50 M327.2,294.10 V300.80 M327.2,298.20 V304.80 M325.90,303.5 H328.70 M327.4,302.20 V309.80 M326.10,308.5 H343.00 M341.7,307.20 V320.30 M340.40,319 H344.90 M343.6,317.70 V339.00 M342.30,337.7 H352.80 M351.5,336.40 V353.60 M350.20,352.3 H356.50 M355.2,351.00 V367.60 M353.90,366.3 H361.10 M359.8,365.00 V381.30 M358.50,380 H363.00 M361.7,378.70 V396.30 M360.40,395 H364.80 M363.5,393.70 V408.30 M362.20,407 H367.90 M366.6,405.70 V413.30 M365.30,412 H368.80 M367.5,410.70 V423.70 M366.20,422.4 H389.60 M388.3,421.10 V462.50 M387.00,461.2 H395.30 " fill="none" stroke="#000" stroke-width="2.6" stroke-dasharray="4.8 2.5"/>
<line x1="120" y1="61.30" x2="120" y2="65.70" stroke="#000" stroke-width="1.3"/>
<line x1="122.5" y1="61.30" x2="122.5" y2="65.70" stroke="#000" stroke-width="1.3"/>
<line x1="126.3" y1="61.30" x2="126.3" y2="65.70" stroke="#000" stroke-width="1.3"/>
<line x1="130" y1="61.30" x2="130" y2="65.70" stroke="#000" stroke-width="1.3"/>
<line x1="133.1" y1="61.30" x2="133.1" y2="65.70" stroke="#000" stroke-width="1.3"/>
<line x1="142.5" y1="67.60" x2="142.5" y2="72.00" stroke="#000" stroke-width="1.3"/>
<line x1="146.3" y1="67.60" x2="146.3" y2="72.00" stroke="#000" stroke-width="1.3"/>
<line x1="148.8" y1="67.60" x2="148.8" y2="72.00" stroke="#000" stroke-width="1.3"/>
<line x1="152.3" y1="75.70" x2="152.3" y2="80.10" stroke="#000" stroke-width="1.3"/>
<line x1="157.5" y1="86.00" x2="157.5" y2="90.40" stroke="#000" stroke-width="1.3"/>
<line x1="160" y1="86.00" x2="160" y2="90.40" stroke="#000" stroke-width="1.3"/>
<line x1="162.5" y1="86.00" x2="162.5" y2="90.40" stroke="#000" stroke-width="1.3"/>
<line x1="165" y1="86.00" x2="165" y2="90.40" stroke="#000" stroke-width="1.3"/>
<line x1="175.4" y1="107.10" x2="175.4" y2="111.50" stroke="#000" stroke-width="1.3"/>
<line x1="182.6" y1="107.10" x2="182.6" y2="111.50" stroke="#000" stroke-width="1.3"/>
<line x1="189.8" y1="107.10" x2="189.8" y2="111.50" stroke="#000" stroke-width="1.3"/>
<line x1="197.2" y1="107.10" x2="197.2" y2="111.50" stroke="#000" stroke-width="1.3"/>
<line x1="106.8" y1="96.40" x2="106.8" y2="100.80" stroke="#000" stroke-width="1.3"/>
<line x1="152.3" y1="141.60" x2="152.3" y2="146.00" stroke="#000" stroke-width="1.3"/>
<line x1="161" y1="141.60" x2="161" y2="146.00" stroke="#000" stroke-width="1.3"/>
<line x1="166" y1="141.60" x2="166" y2="146.00" stroke="#000" stroke-width="1.3"/>
<line x1="173.2" y1="141.60" x2="173.2" y2="146.00" stroke="#000" stroke-width="1.3"/>
<line x1="184.8" y1="141.60" x2="184.8" y2="146.00" stroke="#000" stroke-width="1.3"/>
<line x1="206.0" y1="141.60" x2="206.0" y2="146.00" stroke="#000" stroke-width="1.3"/>
<line x1="395" y1="61.60" x2="395" y2="66.00" stroke="#000" stroke-width="1.3"/>
<line x1="400" y1="61.60" x2="400" y2="66.00" stroke="#000" stroke-width="1.3"/>
<line x1="416" y1="76.10" x2="416" y2="80.50" stroke="#000" stroke-width="1.3"/>
<line x1="422.5" y1="76.10" x2="422.5" y2="80.50" stroke="#000" stroke-width="1.3"/>
<line x1="437.5" y1="88.60" x2="437.5" y2="93.00" stroke="#000" stroke-width="1.3"/>
<line x1="450" y1="88.60" x2="450" y2="93.00" stroke="#000" stroke-width="1.3"/>
<line x1="462.5" y1="88.60" x2="462.5" y2="93.00" stroke="#000" stroke-width="1.3"/>
<line x1="472.5" y1="88.60" x2="472.5" y2="93.00" stroke="#000" stroke-width="1.3"/>
<line x1="402.6" y1="113.40" x2="402.6" y2="117.80" stroke="#000" stroke-width="1.3"/>
<line x1="411.2" y1="120.30" x2="411.2" y2="124.70" stroke="#000" stroke-width="1.3"/>
<line x1="424.2" y1="142.60" x2="424.2" y2="147.00" stroke="#000" stroke-width="1.3"/>
<line x1="430.3" y1="142.60" x2="430.3" y2="147.00" stroke="#000" stroke-width="1.3"/>
<line x1="435.5" y1="142.60" x2="435.5" y2="147.00" stroke="#000" stroke-width="1.3"/>
<line x1="440.7" y1="142.60" x2="440.7" y2="147.00" stroke="#000" stroke-width="1.3"/>
<line x1="450.2" y1="158.80" x2="450.2" y2="163.20" stroke="#000" stroke-width="1.3"/>
<line x1="483.5" y1="158.80" x2="483.5" y2="163.20" stroke="#000" stroke-width="1.3"/>
<line x1="112.7" y1="325.80" x2="112.7" y2="330.20" stroke="#000" stroke-width="1.3"/>
<line x1="116.9" y1="325.80" x2="116.9" y2="330.20" stroke="#000" stroke-width="1.3"/>
<line x1="121.1" y1="325.80" x2="121.1" y2="330.20" stroke="#000" stroke-width="1.3"/>
<line x1="125.4" y1="325.80" x2="125.4" y2="330.20" stroke="#000" stroke-width="1.3"/>
<line x1="130.7" y1="325.80" x2="130.7" y2="330.20" stroke="#000" stroke-width="1.3"/>
<line x1="141.2" y1="334.70" x2="141.2" y2="339.10" stroke="#000" stroke-width="1.3"/>
<line x1="145.5" y1="334.70" x2="145.5" y2="339.10" stroke="#000" stroke-width="1.3"/>
<line x1="150.7" y1="334.70" x2="150.7" y2="339.10" stroke="#000" stroke-width="1.3"/>
<line x1="155" y1="334.70" x2="155" y2="339.10" stroke="#000" stroke-width="1.3"/>
<line x1="160.3" y1="334.70" x2="160.3" y2="339.10" stroke="#000" stroke-width="1.3"/>
<line x1="164.5" y1="334.70" x2="164.5" y2="339.10" stroke="#000" stroke-width="1.3"/>
<line x1="169.8" y1="334.70" x2="169.8" y2="339.10" stroke="#000" stroke-width="1.3"/>
<line x1="175" y1="334.70" x2="175" y2="339.10" stroke="#000" stroke-width="1.3"/>
<line x1="179.3" y1="334.70" x2="179.3" y2="339.10" stroke="#000" stroke-width="1.3"/>
<line x1="184.6" y1="334.70" x2="184.6" y2="339.10" stroke="#000" stroke-width="1.3"/>
<line x1="189.9" y1="334.70" x2="189.9" y2="339.10" stroke="#000" stroke-width="1.3"/>
<line x1="196.6" y1="334.70" x2="196.6" y2="339.10" stroke="#000" stroke-width="1.3"/>
<line x1="129.2" y1="372.00" x2="129.2" y2="376.40" stroke="#000" stroke-width="1.3"/>
<line x1="135" y1="383.60" x2="135" y2="388.00" stroke="#000" stroke-width="1.3"/>
<line x1="147.5" y1="397.40" x2="147.5" y2="401.80" stroke="#000" stroke-width="1.3"/>
<line x1="154.2" y1="397.40" x2="154.2" y2="401.80" stroke="#000" stroke-width="1.3"/>
<line x1="161" y1="397.40" x2="161" y2="401.80" stroke="#000" stroke-width="1.3"/>
<line x1="167.7" y1="397.40" x2="167.7" y2="401.80" stroke="#000" stroke-width="1.3"/>
<line x1="173.5" y1="397.40" x2="173.5" y2="401.80" stroke="#000" stroke-width="1.3"/>
<line x1="177.3" y1="397.40" x2="177.3" y2="401.80" stroke="#000" stroke-width="1.3"/>
<line x1="186" y1="397.40" x2="186" y2="401.80" stroke="#000" stroke-width="1.3"/>
<line x1="195.6" y1="397.40" x2="195.6" y2="401.80" stroke="#000" stroke-width="1.3"/>
<line x1="206.2" y1="397.40" x2="206.2" y2="401.80" stroke="#000" stroke-width="1.3"/>
<line x1="396.4" y1="355.10" x2="396.4" y2="359.50" stroke="#000" stroke-width="1.3"/>
<line x1="412" y1="355.10" x2="412" y2="359.50" stroke="#000" stroke-width="1.3"/>
<line x1="419.8" y1="355.10" x2="419.8" y2="359.50" stroke="#000" stroke-width="1.3"/>
<line x1="462" y1="447.80" x2="462" y2="452.20" stroke="#000" stroke-width="1.3"/>
<line x1="384" y1="420.20" x2="384" y2="424.60" stroke="#000" stroke-width="1.3"/>
<line x1="393.8" y1="459.00" x2="393.8" y2="463.40" stroke="#000" stroke-width="1.3"/>
<line x1="146.5" y1="26.5" x2="162.3" y2="26.5" stroke="#000" stroke-width="2.4"/>
<rect x="146.40" y="47.70" width="2.6" height="2.6" fill="#000"/>
<rect x="152.20" y="47.70" width="2.6" height="2.6" fill="#000"/>
<rect x="158.00" y="47.70" width="2.6" height="2.6" fill="#000"/>
<line x1="421.6" y1="26.5" x2="437.40000000000003" y2="26.5" stroke="#000" stroke-width="2.4"/>
<rect x="421.50" y="47.70" width="2.6" height="2.6" fill="#000"/>
<rect x="427.30" y="47.70" width="2.6" height="2.6" fill="#000"/>
<rect x="433.10" y="47.70" width="2.6" height="2.6" fill="#000"/>
<line x1="146.5" y1="293.1" x2="162.3" y2="293.1" stroke="#000" stroke-width="2.4"/>
<rect x="146.40" y="312.90" width="2.6" height="2.6" fill="#000"/>
<rect x="152.20" y="312.90" width="2.6" height="2.6" fill="#000"/>
<rect x="158.00" y="312.90" width="2.6" height="2.6" fill="#000"/>
<line x1="421.6" y1="293.1" x2="437.40000000000003" y2="293.1" stroke="#000" stroke-width="2.4"/>
<rect x="421.50" y="312.90" width="2.6" height="2.6" fill="#000"/>
<rect x="427.30" y="312.90" width="2.6" height="2.6" fill="#000"/>
<rect x="433.10" y="312.90" width="2.6" height="2.6" fill="#000"/>
<text x="168.5" y="31.9" font-size="16.0" font-family='"Liberation Sans", sans-serif' font-weight="normal" font-style="normal" text-anchor="start" textLength="53.4" lengthAdjust="spacingAndGlyphs" stroke="#000" stroke-width="0.25">MC low</text>
<text x="168.5" y="54.1" font-size="16.0" font-family='"Liberation Sans", sans-serif' font-weight="normal" font-style="normal" text-anchor="start" textLength="58.3" lengthAdjust="spacingAndGlyphs" stroke="#000" stroke-width="0.25">MC high</text>
<text x="443.2" y="31.9" font-size="16.0" font-family='"Liberation Sans", sans-serif' font-weight="normal" font-style="normal" text-anchor="start" textLength="53.0" lengthAdjust="spacingAndGlyphs" stroke="#000" stroke-width="0.25">MC low</text>
<text x="443.2" y="54.1" font-size="16.0" font-family='"Liberation Sans", sans-serif' font-weight="normal" font-style="normal" text-anchor="start" textLength="58.1" lengthAdjust="spacingAndGlyphs" stroke="#000" stroke-width="0.25">MC high</text>
<text x="168.5" y="297.4" font-size="16.0" font-family='"Liberation Sans", sans-serif' font-weight="normal" font-style="normal" text-anchor="start" textLength="53.4" lengthAdjust="spacingAndGlyphs" stroke="#000" stroke-width="0.25">MC low</text>
<text x="168.5" y="319.6" font-size="16.0" font-family='"Liberation Sans", sans-serif' font-weight="normal" font-style="normal" text-anchor="start" textLength="59.2" lengthAdjust="spacingAndGlyphs" stroke="#000" stroke-width="0.25">MC high</text>
<text x="443.2" y="297.4" font-size="16.0" font-family='"Liberation Sans", sans-serif' font-weight="normal" font-style="normal" text-anchor="start" textLength="53.0" lengthAdjust="spacingAndGlyphs" stroke="#000" stroke-width="0.25">MC low</text>
<text x="443.2" y="319.6" font-size="16.0" font-family='"Liberation Sans", sans-serif' font-weight="normal" font-style="normal" text-anchor="start" textLength="58.1" lengthAdjust="spacingAndGlyphs" stroke="#000" stroke-width="0.25">MC high</text>
<text x="59.6" y="202.0" font-size="13.6" font-family='"Liberation Sans", sans-serif' font-style="italic" stroke="#000" stroke-width="0.55">P</text>
<text x="73.6" y="202.0" font-size="13.6" font-family='"Liberation Sans", sans-serif' stroke="#000" stroke-width="0.55">=</text>
<text x="85.4" y="202.0" font-size="13.6" font-family='"Liberation Sans", sans-serif' stroke="#000" stroke-width="0.55" textLength="26.0" lengthAdjust="spacingAndGlyphs">.002</text>
<text x="335.1" y="203.0" font-size="13.6" font-family='"Liberation Sans", sans-serif' font-style="italic" stroke="#000" stroke-width="0.55">P</text>
<text x="348.1" y="203.0" font-size="13.6" font-family='"Liberation Sans", sans-serif' stroke="#000" stroke-width="0.55">=</text>
<text x="360.0" y="203.0" font-size="13.6" font-family='"Liberation Sans", sans-serif' stroke="#000" stroke-width="0.55" textLength="26.0" lengthAdjust="spacingAndGlyphs">.004</text>
<text x="56.8" y="476.4" font-size="13.6" font-family='"Liberation Sans", sans-serif' font-style="italic" stroke="#000" stroke-width="0.55">P</text>
<text x="69.3" y="476.4" font-size="13.6" font-family='"Liberation Sans", sans-serif' stroke="#000" stroke-width="0.55">=</text>
<text x="80.6" y="476.4" font-size="13.6" font-family='"Liberation Sans", sans-serif' stroke="#000" stroke-width="0.55" textLength="26.0" lengthAdjust="spacingAndGlyphs">.009</text>
<text x="331.3" y="476.2" font-size="13.6" font-family='"Liberation Sans", sans-serif' font-style="italic" stroke="#000" stroke-width="0.55">P</text>
<text x="343.6" y="476.2" font-size="13.6" font-family='"Liberation Sans", sans-serif' stroke="#000" stroke-width="0.55">=</text>
<text x="355.4" y="476.2" font-size="13.6" font-family='"Liberation Sans", sans-serif' stroke="#000" stroke-width="0.55" textLength="26.0" lengthAdjust="spacingAndGlyphs">.004</text>
<text x="89.6" y="249.2" font-size="15.5" font-family='"Liberation Sans", sans-serif' font-weight="normal" font-style="normal" text-anchor="start" textLength="25.4" lengthAdjust="spacingAndGlyphs" stroke="#000" stroke-width="0.5">PFS</text>
<text x="122.0" y="249.2" font-size="15.5" font-family='"Liberation Sans", sans-serif' font-weight="normal" font-style="normal" text-anchor="start" textLength="70.8" lengthAdjust="spacingAndGlyphs" stroke="#000" stroke-width="0.5">(months)</text>
<text x="368.9" y="249.1" font-size="15.0" font-family='"Liberation Sans", sans-serif' font-weight="normal" font-style="normal" text-anchor="start" textLength="24.5" lengthAdjust="spacingAndGlyphs" stroke="#000" stroke-width="0.5">PFS</text>
<text x="400.6" y="249.1" font-size="15.0" font-family='"Liberation Sans", sans-serif' font-weight="normal" font-style="normal" text-anchor="start" textLength="66.3" lengthAdjust="spacingAndGlyphs" stroke="#000" stroke-width="0.5">(months)</text>
<text x="89.6" y="522.1" font-size="15.5" font-family='"Liberation Sans", sans-serif' font-weight="normal" font-style="normal" text-anchor="start" textLength="25.4" lengthAdjust="spacingAndGlyphs" stroke="#000" stroke-width="0.5">PFS</text>
<text x="122.0" y="522.1" font-size="15.5" font-family='"Liberation Sans", sans-serif' font-weight="normal" font-style="normal" text-anchor="start" textLength="70.8" lengthAdjust="spacingAndGlyphs" stroke="#000" stroke-width="0.5">(months)</text>
<text x="364.6" y="522.6" font-size="15.5" font-family='"Liberation Sans", sans-serif' font-weight="normal" font-style="normal" text-anchor="start" textLength="25.4" lengthAdjust="spacingAndGlyphs" stroke="#000" stroke-width="0.5">PFS</text>
<text x="396.6" y="522.6" font-size="15.5" font-family='"Liberation Sans", sans-serif' font-weight="normal" font-style="normal" text-anchor="start" textLength="70.8" lengthAdjust="spacingAndGlyphs" stroke="#000" stroke-width="0.5">(months)</text>
<text transform="translate(14.9,153.8) rotate(-90)" x="0" y="0" font-size="17.6" font-family='"Liberation Sans", sans-serif' textLength="97.6" lengthAdjust="spacingAndGlyphs" stroke="#000" stroke-width="0.5">Cum Survival</text>
<text transform="translate(291.0,150.8) rotate(-90)" x="0" y="0" font-size="16.8" font-family='"Liberation Sans", sans-serif' textLength="92.8" lengthAdjust="spacingAndGlyphs" stroke="#000" stroke-width="0.5">Cum Survival</text>
<text transform="translate(15.1,427.0) rotate(-90)" x="0" y="0" font-size="17.6" font-family='"Liberation Sans", sans-serif' textLength="97.5" lengthAdjust="spacingAndGlyphs" stroke="#000" stroke-width="0.5">Cum Survival</text>
<text transform="translate(289.2,426.7) rotate(-90)" x="0" y="0" font-size="17.6" font-family='"Liberation Sans", sans-serif' textLength="96.3" lengthAdjust="spacingAndGlyphs" stroke="#000" stroke-width="0.5">Cum Survival</text>
<text x="0.4" y="18.7" font-size="25.5" font-family='"Liberation Sans", sans-serif' font-weight="bold">A</text>
<text x="260.6" y="18.5" font-size="25.5" font-family='"Liberation Sans", sans-serif' font-weight="bold">B</text>
<text x="-0.5" y="286.8" font-size="25.5" font-family='"Liberation Sans", sans-serif' font-weight="bold">C</text>
<text x="260.6" y="286.3" font-size="25.5" font-family='"Liberation Sans", sans-serif' font-weight="bold">D</text>
</svg>
</body></html>
